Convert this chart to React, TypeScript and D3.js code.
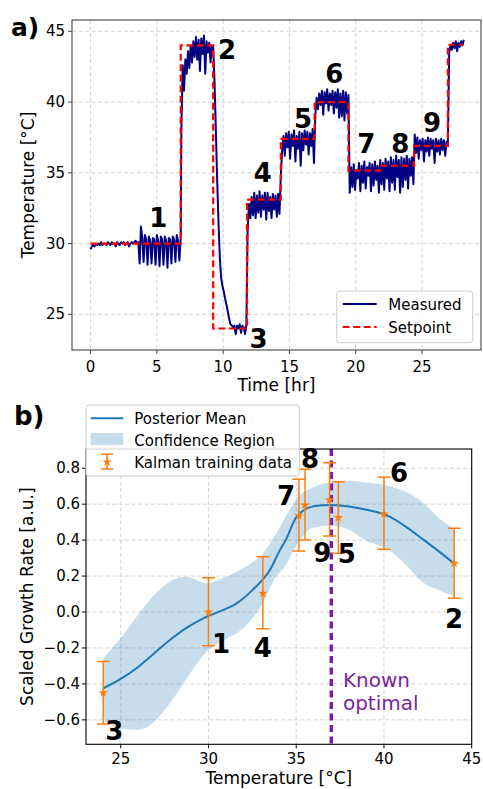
import React from "react";
import * as d3 from "d3";

// ---------- Panel a) data ----------
// measured temperature, segments sampled every 0.1 hr starting at `start`
const measuredSegments: { start: number; values: number[] }[] = [
  { start: 0, values: [29.6, 29.8, 29.9, 29.8, 30.0, 29.9, 30.0, 29.9, 30.1, 29.9, 30.0, 30.0, 29.9, 30.1, 30.0, 29.9, 30.1, 30.0, 30.0, 29.8, 30.1, 30.0, 29.9, 30.1, 30.0, 30.1, 29.9, 30.0, 30.1, 29.8, 30.0, 30.1, 30.0, 30.1, 30.2, 30.0, 30.1] },
  { start: 3.7, values: [28.6, 31.2, 30.4, 28.7, 30.6, 30.3, 28.5, 30.5, 30.2, 28.6, 30.4, 30.3, 28.5, 30.6, 30.2, 28.4, 30.5, 30.3, 28.5, 30.5, 30.2, 28.3, 30.4, 30.3, 28.6, 30.5, 30.3, 28.7, 30.6, 30.2, 28.8, 30.4] },
  { start: 6.85, values: [38.0, 42.6, 40.8, 43.0, 42.0, 43.6, 42.4, 44.0, 42.8, 44.3, 43.2, 44.6, 43.0, 44.4, 42.2, 44.5, 43.4, 44.7, 42.0, 44.3, 43.5, 44.2, 42.8, 44.0, 43.9] },
  { start: 9.35, values: [41.5, 38.0, 34.5, 31.5, 29.0, 27.6, 27.0, 26.6, 26.1, 25.7, 25.2, 24.7, 24.3, 24.2, 24.1, 24.2, 23.6, 24.2, 24.0, 24.3, 23.7, 24.2, 24.1, 23.6, 24.2] },
  { start: 11.85, values: [31.0, 32.8, 31.8, 33.3, 32.0, 33.6, 31.8, 33.4, 32.2, 33.7, 31.9, 33.4, 32.4, 33.6, 31.7, 33.6, 32.3, 33.3, 31.8, 33.5, 32.4, 33.4, 31.9, 33.5, 32.1] },
  { start: 14.35, values: [34.8, 36.6, 37.6, 36.2, 37.8, 36.8, 37.9, 36.0, 37.7, 36.9, 38.0, 35.8, 37.6, 36.7, 37.9, 35.5, 37.8, 36.6, 38.0, 37.0, 37.9, 36.3, 37.8, 36.9, 38.1, 35.7] },
  { start: 16.95, values: [39.0, 40.3, 39.5, 40.6, 39.8, 40.8, 39.1, 40.7, 39.9, 40.9, 39.4, 40.6, 39.8, 40.8, 39.2, 40.7, 39.6, 40.9, 38.9, 40.6, 39.0, 40.8, 38.7, 40.7, 39.2, 40.5] },
  { start: 19.55, values: [33.6, 35.4, 34.0, 35.6, 33.8, 35.2, 34.6, 35.7, 33.7, 35.5, 34.3, 35.8, 33.9, 35.4, 34.8, 35.7, 33.7, 35.6, 34.1, 35.8, 34.5, 35.5, 33.6, 35.9, 34.2, 35.7, 33.8, 36.0, 34.6, 35.8, 33.7, 36.1, 34.3, 35.9, 33.8, 36.2, 34.7, 35.9, 33.6, 36.1, 34.0, 36.0, 34.5, 36.2, 33.9, 36.0, 34.8, 36.1, 34.2] },
  { start: 24.45, values: [37.7, 36.4, 37.5, 36.0, 37.3, 36.6, 37.4, 35.8, 37.3, 36.5, 37.5, 36.2, 37.4, 36.7, 37.3, 35.7, 37.4, 36.5, 37.3, 36.3, 37.4, 36.6, 37.3, 36.2, 37.2, 36.9] },
  { start: 27.05, values: [43.5, 44.0, 43.7, 44.2, 43.8, 44.3, 43.6, 44.2, 43.9, 44.3, 44.0, 44.4] },
];
const sampleStep = 0.1;

const setpointTimes = [0, 6.8, 9.25, 11.8, 14.35, 16.9, 19.45, 21.85, 24.4, 26.95, 28.1];
const setpointValues = [30, 44, 24, 33.1, 37.4, 40, 35.15, 35.5, 36.9, 44.05, 44.05];

const topLabels = ["1", "2", "3", "4", "5", "6", "7", "8", "9"];
const topLabelTime = [5.1, 10.3, 12.68, 13.0, 16.03, 18.39, 20.8, 23.36, 25.75];
const topLabelTemp = [31.16, 43.02, 22.6, 34.38, 38.19, 41.37, 36.38, 36.38, 37.91];

const topXTicks = [0, 5, 10, 15, 20, 25];
const topYTicks = [25, 30, 35, 40, 45];

// ---------- Panel b) data ----------
const meanTemp = [24.0, 24.9, 25.9, 26.8, 27.8, 28.7, 29.7, 30.6, 31.6, 32.5, 33.5, 34.1, 34.4, 35.0, 36.0, 36.9, 37.9, 39.0, 40.2, 41.3, 42.2, 43.2, 44.0];
const meanValue = [-0.425, -0.378, -0.313, -0.239, -0.156, -0.091, -0.035, 0.002, 0.048, 0.122, 0.234, 0.35, 0.4, 0.527, 0.588, 0.595, 0.588, 0.569, 0.536, 0.471, 0.406, 0.332, 0.27];

const bandTemp = [24.0, 24.9, 25.9, 26.8, 27.8, 28.7, 29.9, 31.0, 32.1, 33.1, 33.8, 34.4, 35.0, 36.0, 36.9, 37.9, 39.0, 40.2, 41.3, 42.2, 43.2, 44.0];
const bandUpper = [-0.26, -0.156, -0.026, 0.085, 0.169, 0.196, 0.16, 0.196, 0.252, 0.326, 0.428, 0.53, 0.629, 0.694, 0.72, 0.73, 0.72, 0.703, 0.666, 0.61, 0.517, 0.462];
const bandLower = [-0.6, -0.645, -0.656, -0.62, -0.508, -0.378, -0.22, -0.15, -0.08, 0.05, 0.19, 0.26, 0.37, 0.47, 0.48, 0.462, 0.397, 0.35, 0.258, 0.165, 0.119, 0.09];

const kalmanTemp = [30, 44, 24, 33.1, 37.4, 40, 35.15, 35.5, 36.9];
const kalmanValue = [0.0, 0.271, -0.45, 0.104, 0.525, 0.545, 0.536, 0.595, 0.623];
const kalmanLow = [-0.187, 0.076, -0.623, -0.093, 0.327, 0.349, 0.34, 0.4, 0.423];
const kalmanHigh = [0.19, 0.466, -0.276, 0.308, 0.725, 0.75, 0.738, 0.794, 0.83];

const botLabels = ["3", "1", "4", "2", "7", "8", "9", "5", "6"];
const botLabelTemp = [24.63, 30.71, 33.09, 43.99, 34.42, 35.79, 36.49, 37.88, 40.86];
const botLabelValue = [-0.712, -0.227, -0.252, -0.091, 0.595, 0.8, 0.28, 0.271, 0.725];

const knownOptimalTemp = 37;
const botXTicks = [25, 30, 35, 40, 45];
const botYTicks = [-0.6, -0.4, -0.2, 0, 0.2, 0.4, 0.6, 0.8];

const FONT = "DejaVu Sans";
const PURPLE = "#7b1fa2";
const BLUE = "#1f77b4";
const ORANGE = "#ff7f0e";

const fmtTick = (v: number) => {
  const s = Math.abs(v) < 1e-9 ? "0.0" : d3.format(".1f")(v);
  return s.replace("-", "\u2212");
};

export default function App() {
  // panel a scales
  const ax = { l: 72, r: 481, t: 20, b: 350 };
  const xA = d3.scaleLinear().domain([-1.4, 29.45]).range([ax.l, ax.r]);
  const yA = d3.scaleLinear().domain([22.48, 45.8]).range([ax.b, ax.t]);

  const measured: [number, number][] = [];
  measuredSegments.forEach((s) =>
    s.values.forEach((v, i) => measured.push([s.start + i * sampleStep, v]))
  );
  const lineA = d3
    .line<[number, number]>()
    .x((d) => xA(d[0]))
    .y((d) => yA(d[1]));
  const spLine = d3
    .line<number>()
    .x((_, i) => xA(setpointTimes[i]))
    .y((d) => yA(d))
    .curve(d3.curveStepAfter);

  // panel b scales
  const bx = { l: 86, r: 471.7, t: 449, b: 744.3 };
  const xB = d3.scaleLinear().domain([23.02, 45]).range([bx.l, bx.r]);
  const yB = d3.scaleLinear().domain([-0.736, 0.907]).range([bx.b, bx.t]);

  const meanPath = d3
    .line<number>()
    .x((_, i) => xB(meanTemp[i]))
    .y((d) => yB(d))
    .curve(d3.curveMonotoneX)(meanValue);
  const bandPath = d3
    .area<number>()
    .x((_, i) => xB(bandTemp[i]))
    .y0((_, i) => yB(bandLower[i]))
    .y1((d) => yB(d))
    .curve(d3.curveMonotoneX)(bandUpper);

  const star = d3.symbol().type(d3.symbolStar).size(28)();

  const gridColor = "#cfcfcf";
  const tickFont = 15;

  return (
    <svg width={483} height={789} style={{ position: "absolute", left: 0, top: 0, background: "#fff" }} fontFamily={FONT}>
      <defs>
        <clipPath id="clipA">
          <rect x={ax.l} y={ax.t} width={ax.r - ax.l} height={ax.b - ax.t} />
        </clipPath>
        <clipPath id="clipB">
          <rect x={bx.l} y={bx.t} width={bx.r - bx.l} height={bx.b - bx.t} />
        </clipPath>
      </defs>

      {/* ---------------- Panel a ---------------- */}
      <rect x={ax.l} y={ax.t} width={ax.r - ax.l} height={ax.b - ax.t} fill="#fff" />
      {topXTicks.map((t) => (
        <line key={"gx" + t} x1={xA(t)} x2={xA(t)} y1={ax.t} y2={ax.b} stroke={gridColor} strokeDasharray="4,2.5" strokeWidth={0.9} />
      ))}
      {topYTicks.map((t) => (
        <line key={"gy" + t} x1={ax.l} x2={ax.r} y1={yA(t)} y2={yA(t)} stroke={gridColor} strokeDasharray="4,2.5" strokeWidth={0.9} />
      ))}
      <g clipPath="url(#clipA)">
        <path d={lineA(measured) || ""} fill="none" stroke="#000080" strokeWidth={2} strokeLinejoin="round" />
        <path d={spLine(setpointValues) || ""} fill="none" stroke="#ff0000" strokeWidth={2.2} strokeDasharray="7,3.5" />
      </g>
      <rect x={ax.l} y={ax.t} width={ax.r - ax.l} height={ax.b - ax.t} fill="none" stroke="#444" strokeWidth={1.1} />
      {topXTicks.map((t) => (
        <g key={"tx" + t}>
          <line x1={xA(t)} x2={xA(t)} y1={ax.b} y2={ax.b + 4} stroke="#444" />
          <text x={xA(t)} y={371.5} fontSize={tickFont} textAnchor="middle">{t}</text>
        </g>
      ))}
      {topYTicks.map((t) => (
        <g key={"ty" + t}>
          <line x1={ax.l - 4} x2={ax.l} y1={yA(t)} y2={yA(t)} stroke="#444" />
          <text x={ax.l - 7} y={yA(t) + 5} fontSize={tickFont} textAnchor="end">{t}</text>
        </g>
      ))}
      <text x={(ax.l + ax.r) / 2} y={391} fontSize={17} textAnchor="middle">Time [hr]</text>
      <text transform={`translate(34,${(ax.t + ax.b) / 2}) rotate(-90)`} fontSize={17} textAnchor="middle">Temperature [°C]</text>
      {topLabels.map((l, i) => (
        <text key={"la" + i} x={xA(topLabelTime[i])} y={yA(topLabelTemp[i])} fontSize={26} fontWeight="bold" textAnchor="middle">{l}</text>
      ))}
      {/* legend a */}
      <rect x={336.7} y={291} width={136} height={51.7} rx={3} fill="#fff" fillOpacity={0.85} stroke="#ccc" />
      <line x1={342.7} x2={376.7} y1={304} y2={304} stroke="#000080" strokeWidth={2} />
      <text x={388.3} y={309.5} fontSize={15}>Measured</text>
      <line x1={342.7} x2={376.7} y1={327} y2={327} stroke="#ff0000" strokeWidth={2.2} strokeDasharray="7,3.5" />
      <text x={388.3} y={332.5} fontSize={15}>Setpoint</text>
      <text x={11} y={36} fontSize={25} fontWeight="bold">a)</text>

      {/* ---------------- Panel b ---------------- */}
      <rect x={bx.l} y={bx.t} width={bx.r - bx.l} height={bx.b - bx.t} fill="#fff" />
      {botXTicks.map((t) => (
        <line key={"gbx" + t} x1={xB(t)} x2={xB(t)} y1={bx.t} y2={bx.b} stroke={gridColor} strokeDasharray="4,2.5" strokeWidth={0.9} />
      ))}
      {botYTicks.map((t) => (
        <line key={"gby" + t} x1={bx.l} x2={bx.r} y1={yB(t)} y2={yB(t)} stroke={gridColor} strokeDasharray="4,2.5" strokeWidth={0.9} />
      ))}
      <g clipPath="url(#clipB)">
        <path d={bandPath || ""} fill={BLUE} fillOpacity={0.25} stroke="none" />
        <path d={meanPath || ""} fill="none" stroke={BLUE} strokeWidth={2} />
        <line x1={xB(knownOptimalTemp)} x2={xB(knownOptimalTemp)} y1={bx.t} y2={bx.b} stroke={PURPLE} strokeWidth={3.5} strokeDasharray="7,4.5" />
        {kalmanTemp.map((t, i) => (
          <g key={"eb" + i} stroke={ORANGE} strokeWidth={1.5}>
            <line x1={xB(t)} x2={xB(t)} y1={yB(kalmanLow[i])} y2={yB(kalmanHigh[i])} />
            <line x1={xB(t) - 6.5} x2={xB(t) + 6.5} y1={yB(kalmanLow[i])} y2={yB(kalmanLow[i])} />
            <line x1={xB(t) - 6.5} x2={xB(t) + 6.5} y1={yB(kalmanHigh[i])} y2={yB(kalmanHigh[i])} />
            <path d={star || ""} transform={`translate(${xB(t)},${yB(kalmanValue[i])})`} fill={ORANGE} stroke="none" />
          </g>
        ))}
      </g>
      <rect x={bx.l} y={bx.t} width={bx.r - bx.l} height={bx.b - bx.t} fill="none" stroke="#000" strokeWidth={1.1} />
      {botXTicks.map((t) => (
        <g key={"tbx" + t}>
          <line x1={xB(t)} x2={xB(t)} y1={bx.b} y2={bx.b + 4} stroke="#000" />
          <text x={xB(t)} y={764} fontSize={tickFont} textAnchor="middle">{t}</text>
        </g>
      ))}
      {botYTicks.map((t) => (
        <g key={"tby" + t}>
          <line x1={bx.l - 4} x2={bx.l} y1={yB(t)} y2={yB(t)} stroke="#000" />
          <text x={bx.l - 6} y={yB(t) + 5} fontSize={tickFont} textAnchor="end">{fmtTick(t)}</text>
        </g>
      ))}
      <text x={(bx.l + bx.r) / 2} y={784} fontSize={17} textAnchor="middle">Temperature [°C]</text>
      <text transform={`translate(33,${(bx.t + bx.b) / 2}) rotate(-90)`} fontSize={17} textAnchor="middle">Scaled Growth Rate [a.u.]</text>
      {botLabels.map((l, i) => (
        <text key={"lb" + i} x={xB(botLabelTemp[i])} y={yB(botLabelValue[i])} fontSize={26} fontWeight="bold" textAnchor="middle">{l}</text>
      ))}
      <text x={xB(37.66)} y={yB(-0.416)} fontSize={20} fill={PURPLE}>
        <tspan x={xB(37.66)}>Known</tspan>
        <tspan x={xB(37.66)} dy={23.5}>optimal</tspan>
      </text>
      {/* legend b */}
      <rect x={86} y={405} width={213.3} height={71} rx={3} fill="#fff" fillOpacity={0.85} stroke="#ccc" />
      <line x1={90.7} x2={123.3} y1={418.3} y2={418.3} stroke={BLUE} strokeWidth={2} />
      <text x={134.3} y={423.5} fontSize={15}>Posterior Mean</text>
      <rect x={90.7} y={433} width={32.6} height={12} fill={BLUE} fillOpacity={0.25} />
      <text x={134.3} y={445.5} fontSize={15}>Confidence Region</text>
      <g stroke={ORANGE} strokeWidth={1.5}>
        <line x1={107} x2={107} y1={454.3} y2={469} />
        <line x1={101} x2={113} y1={454.3} y2={454.3} />
        <line x1={101} x2={113} y1={469} y2={469} />
        <path d={star || ""} transform="translate(107,462)" fill={ORANGE} stroke="none" />
      </g>
      <text x={134.3} y={467.5} fontSize={15}>Kalman training data</text>
      <text x={14} y={425} fontSize={26} fontWeight="bold">b)</text>
    </svg>
  );
}
